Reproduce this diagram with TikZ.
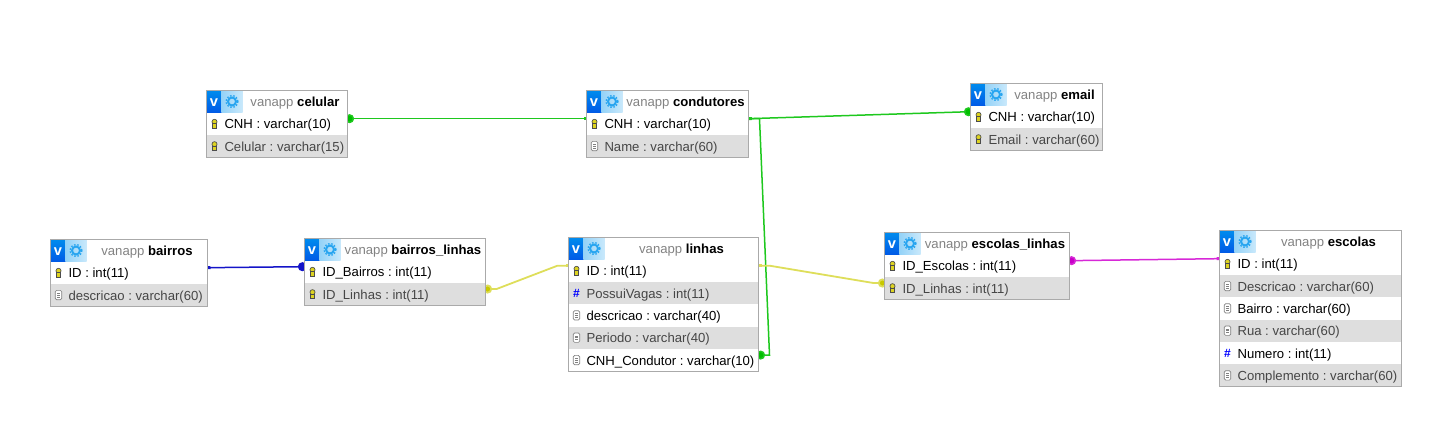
\documentclass[tikz,border=0pt]{standalone}
\usepackage{fontspec}
\setmainfont{Liberation Sans}
\usetikzlibrary{positioning,fit,backgrounds,arrows.meta}
\definecolor{framegray}{RGB}{170,170,170}
\definecolor{rowgray}{RGB}{222,222,222}
\definecolor{headgray}{RGB}{130,130,130}
\definecolor{rowtext}{RGB}{70,70,70}
\definecolor{vblue}{RGB}{0,90,230}
\definecolor{gearblue}{RGB}{40,165,240}
\definecolor{linkgreen}{RGB}{30,200,30}
\definecolor{linkyellow}{RGB}{222,222,90}
\definecolor{linkblue}{RGB}{20,20,200}
\definecolor{linkpink}{RGB}{215,40,215}
\definecolor{dotgreen}{RGB}{0,190,0}
\definecolor{dotyellow}{RGB}{200,200,0}
\definecolor{dotpink}{RGB}{200,0,200}
\newlength\px
\setlength\px{0.75pt}
\tikzset{
	iconv/.style={inner sep=0pt, outer sep=0pt, minimum width=15\px, minimum height=22\px, text height=7pt, text depth=0pt, top color=vblue!70!cyan, bottom color=vblue, text=white, font=\fontsize{11pt}{11pt}\selectfont\bfseries},
	icongear/.style={inner sep=0pt, outer sep=0pt, minimum width=21\px, minimum height=22\px, left color=gearblue!50, right color=gearblue!25},
	headbox/.style={inner sep=0pt, outer sep=0pt, minimum width=(#1-36)*\px, minimum height=22\px, text height=9.5pt, text depth=2pt},
	rowbase/.style={inner sep=0pt, outer sep=0pt, minimum height=22.35\px, text height=9.5pt, text depth=2pt},
	rowwhite/.style={rowbase, fill=white, text=black},
	rowgrey/.style={rowbase, fill=rowgray, text=rowtext},
	tblframe/.style={draw=framegray, line width=1\px, inner sep=0pt, outer sep=0pt},
	link/.style={draw=#1, line width=1.5\px},
	dotsquare/.style={{Circle[length=6.75pt,fill=#1]}-{Square[length=2.25pt,fill=#1]}, shorten <=-1.8pt},
	squaredot/.style={{Square[length=2.25pt,fill=#1]}-{Circle[length=6.75pt,fill=#1]}, shorten >=-1.8pt},
	keyic/.pic={
		\fill[yellow!85!black, draw=black!70, line width=.5pt] (0,1.4pt) circle (1.9pt);
		\fill[yellow!85!black, draw=black!70, line width=.5pt] (-1.3pt,-3.4pt) rectangle (1.3pt,0pt);
	},
	listic/.pic={
		\draw[black!50, fill=white, line width=.5pt, rounded corners=1pt] (-2.4pt,-3.5pt) rectangle (2.4pt,3.5pt);
		\draw[black!50, line width=.4pt] (-1.3pt,1.4pt) -- (1.3pt,1.4pt) (-1.3pt,0pt) -- (1.3pt,0pt) (-1.3pt,-1.4pt) -- (1.3pt,-1.4pt);
	},
	hashic/.pic={
		\node[inner sep=0pt, text=blue, font=\bfseries\small] (-mark) {\#};
	},
	gearic/.pic={
		\draw[gearblue, line width=1.5pt] (0,0) circle (3pt);
		\draw[gearblue, line width=1pt, dash pattern=on 1.2pt off 1.2pt] (0,0) circle (4.4pt);
	},
	font=\fontsize{9.85pt}{11pt}\selectfont\frenchspacing
}
% name, x, y, width, table
\newcommand{\tblhead}[5]{
	\node[iconv, anchor=north west] (#1v) at (#2,#3) {v};
	\node[icongear, right=0pt of #1v] (#1g) {};
	\pic at (#1g) {gearic};
	\node[headbox=#4, right=0pt of #1g] (#1h) {{\color{headgray}vanapp} \textbf{#5}};
}
% name, node above, style, icon, text, width
\newcommand{\tblrow}[6]{
	\node[#3, below right=0pt and 0pt of #2] (#1) {\makebox[#6\px][l]{\hspace{18\px}#5}};
	\pic at ([xshift=8\px]#1.west) {#4};
}
\begin{document}
\begin{tikzpicture}[x=0.75pt, y=-0.75pt]
	\useasboundingbox (0,0) rectangle (1437,439);

	% celular
	\tblhead{celular}{206.5}{90.5}{141}{celular}
	\tblrow{celular1}{celularv.south west}{rowwhite}{keyic}{CNH : varchar(10)}{141}
	\tblrow{celular2}{celular1.south west}{rowgrey}{keyic}{Celular : varchar(15)}{141}
	\node[tblframe, fit=(celularv)(celularh)(celular2)] (celularbox) {};

	% condutores
	\tblhead{condutores}{586.5}{90.5}{162}{condutores}
	\tblrow{condutores1}{condutoresv.south west}{rowwhite}{keyic}{CNH : varchar(10)}{162}
	\tblrow{condutores2}{condutores1.south west}{rowgrey}{listic}{Name : varchar(60)}{162}
	\node[tblframe, fit=(condutoresv)(condutoresh)(condutores2)] (condutoresbox) {};

	% email
	\tblhead{email}{970.5}{83.5}{132}{email}
	\tblrow{email1}{emailv.south west}{rowwhite}{keyic}{CNH : varchar(10)}{132}
	\tblrow{email2}{email1.south west}{rowgrey}{keyic}{Email : varchar(60)}{132}
	\node[tblframe, fit=(emailv)(emailh)(email2)] (emailbox) {};

	% bairros
	\tblhead{bairros}{50.5}{239.5}{157}{bairros}
	\tblrow{bairros1}{bairrosv.south west}{rowwhite}{keyic}{ID : int(11)}{157}
	\tblrow{bairros2}{bairros1.south west}{rowgrey}{listic}{descricao : varchar(60)}{157}
	\node[tblframe, fit=(bairrosv)(bairrosh)(bairros2)] (bairrosbox) {};

	% bairros_linhas
	\tblhead{bairroslinhas}{304.5}{238.5}{181}{bairros\_linhas}
	\tblrow{bairroslinhas1}{bairroslinhasv.south west}{rowwhite}{keyic}{ID\_Bairros : int(11)}{181}
	\tblrow{bairroslinhas2}{bairroslinhas1.south west}{rowgrey}{keyic}{ID\_Linhas : int(11)}{181}
	\node[tblframe, fit=(bairroslinhasv)(bairroslinhash)(bairroslinhas2)] (bairroslinhasbox) {};

	% linhas
	\tblhead{linhas}{568.5}{237.5}{190}{linhas}
	\tblrow{linhas1}{linhasv.south west}{rowwhite}{keyic}{ID : int(11)}{190}
	\tblrow{linhas2}{linhas1.south west}{rowgrey}{hashic}{PossuiVagas : int(11)}{190}
	\tblrow{linhas3}{linhas2.south west}{rowwhite}{listic}{descricao : varchar(40)}{190}
	\tblrow{linhas4}{linhas3.south west}{rowgrey}{listic}{Periodo : varchar(40)}{190}
	\tblrow{linhas5}{linhas4.south west}{rowwhite}{listic}{CNH\_Condutor : varchar(10)}{190}
	\node[tblframe, fit=(linhasv)(linhash)(linhas5)] (linhasbox) {};

	% escolas_linhas
	\tblhead{escolaslinhas}{884.5}{232.5}{185}{escolas\_linhas}
	\tblrow{escolaslinhas1}{escolaslinhasv.south west}{rowwhite}{keyic}{ID\_Escolas : int(11)}{185}
	\tblrow{escolaslinhas2}{escolaslinhas1.south west}{rowgrey}{keyic}{ID\_Linhas : int(11)}{185}
	\node[tblframe, fit=(escolaslinhasv)(escolaslinhash)(escolaslinhas2)] (escolaslinhasbox) {};

	% escolas
	\tblhead{escolas}{1219.5}{230.5}{182}{escolas}
	\tblrow{escolas1}{escolasv.south west}{rowwhite}{keyic}{ID : int(11)}{182}
	\tblrow{escolas2}{escolas1.south west}{rowgrey}{listic}{Descricao : varchar(60)}{182}
	\tblrow{escolas3}{escolas2.south west}{rowwhite}{listic}{Bairro : varchar(60)}{182}
	\tblrow{escolas4}{escolas3.south west}{rowgrey}{listic}{Rua : varchar(60)}{182}
	\tblrow{escolas5}{escolas4.south west}{rowwhite}{hashic}{Numero : int(11)}{182}
	\tblrow{escolas6}{escolas5.south west}{rowgrey}{listic}{Complemento : varchar(60)}{182}
	\node[tblframe, fit=(escolasv)(escolash)(escolas6)] (escolasbox) {};

	% ligacoes
	\begin{scope}[on background layer]
		\draw[link=linkgreen, dotsquare=dotgreen] ([yshift=3.75pt]celular1.east) -- ([yshift=3.75pt]condutores1.west);
		\draw[link=linkgreen, squaredot=dotgreen] ([yshift=3.75pt]condutores1.east) -- ([yshift=3.75pt]email1.west);
		\draw[link=linkgreen, squaredot=dotgreen] ([yshift=3.75pt]condutores1.east) -- ++(11,0) -- ([xshift=8.25pt, yshift=3.75pt]linhas5.east) -- ([yshift=3.75pt]linhas5.east);
		\draw[link=linkblue, squaredot=linkblue] ([yshift=3.75pt]bairros1.east) -- ([yshift=3.75pt]bairroslinhas1.west);
		\draw[link=linkyellow, line width=1.8\px, dotsquare=dotyellow] ([yshift=3.75pt]bairroslinhas2.east) -- ++(11,0) -- ([xshift=-8.25pt, yshift=3.75pt]linhas1.west) -- ([yshift=3.75pt]linhas1.west);
		\draw[link=linkyellow, line width=1.8\px, squaredot=dotyellow] ([yshift=3.75pt]linhas1.east) -- ++(11,0) -- ([xshift=-8.25pt, yshift=3.75pt]escolaslinhas2.west) -- ([yshift=3.75pt]escolaslinhas2.west);
		\draw[link=linkpink, dotsquare=dotpink] ([yshift=3.75pt]escolaslinhas1.east) -- ([yshift=3.75pt]escolas1.west);
	\end{scope}
\end{tikzpicture}
\end{document}
